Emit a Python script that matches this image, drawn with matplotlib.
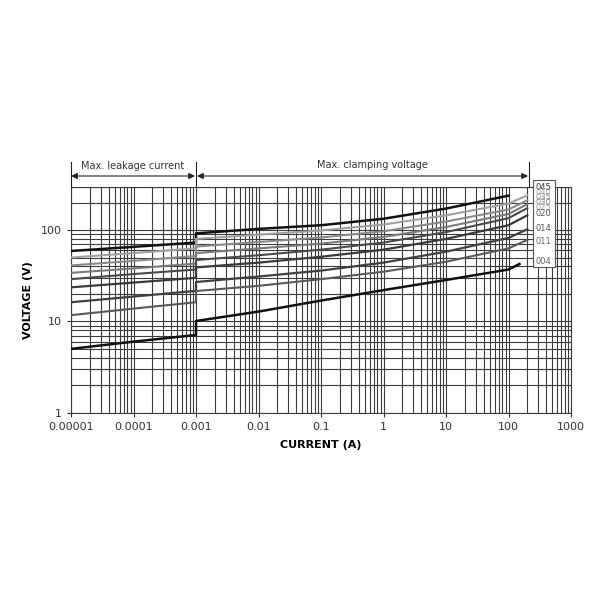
import matplotlib
matplotlib.use("Agg")
import matplotlib.pyplot as plt
from matplotlib.ticker import FixedLocator, NullFormatter
import numpy as np

# ---- data ----
labels = ["045", "040", "035", "030", "025", "020", "014", "011", "004"]
leak_current = [1e-5, 1e-4, 1e-3]
leak_045 = [59, 65.5, 73]
leak_040 = [50, 56, 63]
leak_035 = [41, 46, 52]
leak_030 = [34, 38, 43]
leak_025 = [29, 33, 37]
leak_020 = [23.6, 26.6, 30]
leak_014 = [16.2, 18.7, 21.6]
leak_011 = [11.7, 13.8, 16.2]
leak_004 = [5.0, 6.0, 7.1]

clamp_current = [1e-3, 1e-2, 1e-1, 1, 10, 100, 200]
clamp_045 = [92, 103, 113, 133, 172, 238]
clamp_040 = [80, 89, 99, 115, 145, 195, 240]
clamp_035 = [66, 74, 83, 97, 124, 168, 212]
clamp_030 = [56, 63, 71, 84, 108, 150, 192]
clamp_025 = [47, 53, 61, 73, 95, 135, 174]
clamp_020 = [39, 44, 51, 61, 80, 113, 145]
clamp_014 = [27, 31, 36, 44, 58, 82, 102]
clamp_011 = [21.5, 24.5, 29, 35, 45, 63, 78]
clamp_004_current = [1e-3, 1e-2, 1e-1, 1, 10, 100, 150]
clamp_004 = [10.1, 12.8, 16.9, 22, 28.4, 37, 42.5]

x_ticks = [1e-5, 1e-4, 1e-3, 1e-2, 1e-1, 1, 10, 100, 1000]
x_ticklabels = ["0.00001", "0.0001", "0.001", "0.01", "0.1", "1", "10", "100", "1000"]
y_ticks = [1, 10, 100]
y_ticklabels = ["1", "10", "100"]

leaks = [leak_045, leak_040, leak_035, leak_030, leak_025, leak_020, leak_014, leak_011, leak_004]
clamps = [clamp_045, clamp_040, clamp_035, clamp_030, clamp_025, clamp_020, clamp_014, clamp_011, clamp_004]
clamp_x = [clamp_current[:6]] + [clamp_current] * 7 + [clamp_004_current]

colors = ["#111111", "#a0a0a0", "#8a8a8a", "#7a7a7a", "#4a4a4a", "#3a3a3a", "#404040", "#5a5a5a", "#111111"]
widths = [1.8, 1.5, 1.5, 1.5, 1.5, 1.6, 1.6, 1.5, 1.8]
label_colors = ["#333333", "#b0b0b0", "#909090", "#909090", "#a0a0a0", "#555555", "#555555", "#666666", "#666666"]

fig = plt.figure(figsize=(6, 6), dpi=100)
ax = fig.add_axes([71/600, 1 - 412.7/600, 500/600, 226.2/600])
ax.set_xscale("log")
ax.set_yscale("log")
ax.set_xlim(1e-5, 1000)
ax.set_ylim(1, 300)

grid_c = "#3c3c3c"
xminor = [m * 10.0**e for e in range(-5, 3) for m in range(1, 10)] + [1000]
ymajor = [m * 10.0**e for e in range(0, 3) for m in range(1, 10) if m * 10.0**e <= 300]
for xv in xminor:
    ax.axvline(xv, color=grid_c, lw=0.8, zorder=1)
for yv in ymajor:
    ax.axhline(yv, color=grid_c, lw=0.8, zorder=1)

for lk, cl, cx, c, w in zip(leaks, clamps, clamp_x, colors, widths):
    xs = list(leak_current) + list(cx)
    ys = list(lk) + list(cl)
    ax.plot(xs, ys, color=c, lw=w, zorder=3, solid_joinstyle="round")

ax.xaxis.set_major_locator(FixedLocator(x_ticks))
ax.set_xticklabels(x_ticklabels)
ax.xaxis.set_minor_formatter(NullFormatter())
ax.yaxis.set_major_locator(FixedLocator(y_ticks))
ax.set_yticklabels(y_ticklabels)
ax.yaxis.set_minor_formatter(NullFormatter())
ax.tick_params(which="minor", length=0)
ax.tick_params(which="major", length=3, labelsize=8, colors="#333333", width=0.8)
for s in ax.spines.values():
    s.set_color(grid_c)
    s.set_linewidth(0.8)

ax.set_xlabel("CURRENT (A)", fontsize=8, fontweight="bold", labelpad=6)
ax.set_ylabel("VOLTAGE (V)", fontsize=8, fontweight="bold", labelpad=6)

def fx(px):
    return px / 600
def fy(py):
    return 1 - py / 600

arrow_y = fy(176)
for px in (71, 196, 529):
    fig.add_artist(plt.Line2D([fx(px), fx(px)], [fy(162), fy(186.5)], color="#222222", lw=0.8))
ap = dict(arrowstyle="<|-|>", color="#222222", lw=0.8, mutation_scale=9, shrinkA=0, shrinkB=0)
fig.add_artist(matplotlib.patches.FancyArrowPatch((fx(71), arrow_y), (fx(195), arrow_y), **ap))
fig.add_artist(matplotlib.patches.FancyArrowPatch((fx(197), arrow_y), (fx(528), arrow_y), **ap))
fig.text(fx(133), fy(166), "Max. leakage current", ha="center", va="center", fontsize=7, color="#333333")
fig.text(fx(372), fy(165), "Max. clamping voltage", ha="center", va="center", fontsize=7, color="#333333")

box = matplotlib.patches.Rectangle((fx(533), fy(267)), (555 - 533) / 600, (267 - 180) / 600,
                                   transform=fig.transFigure, facecolor="white", edgecolor="#555555",
                                   lw=0.8, zorder=5)
fig.add_artist(box)
label_py = [187.5, 192.5, 197.5, 202.5, 207.5, 214, 229, 242, 261]
for lab, py, lc in zip(labels, label_py, label_colors):
    fig.text(fx(536), fy(py), lab, ha="left", va="center", fontsize=6, color=lc, zorder=6)

fig.savefig("out.png", dpi=100, facecolor="white")
